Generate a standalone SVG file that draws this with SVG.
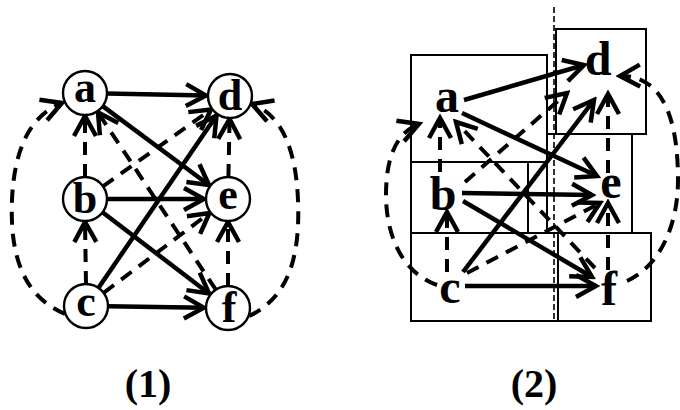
<svg xmlns="http://www.w3.org/2000/svg" width="680" height="410" viewBox="0 0 680 410">
<style>
.bg{fill:#fff}
.node circle{fill:#fff;stroke:#000;stroke-width:2.4}
.box{fill:none;stroke:#000;stroke-width:2}
.lbl{font-family:"Liberation Serif","Times New Roman",serif;font-weight:bold;fill:#000;text-anchor:middle}
.n1{font-size:44px}
.n2{font-size:48px}
.cap{font-size:40px}
.s{fill:none;stroke:#000;stroke-width:4.5;marker-end:url(#ah)}
.d{fill:none;stroke:#000;stroke-width:4;stroke-dasharray:13 9;marker-end:url(#ah)}
.sep{fill:none;stroke:#000;stroke-width:1.6;stroke-dasharray:6 3}
</style>
<defs>
<marker id="ah" viewBox="-24 -14 28 28" markerWidth="28" markerHeight="28" refX="0" refY="0" orient="auto" markerUnits="userSpaceOnUse">
<path d="M-20,-11 L0,0 L-20,11" fill="none" stroke="#000" stroke-width="4.5" stroke-linejoin="miter"/>
</marker>
</defs>
<rect class="bg" x="0" y="0" width="680" height="410"/>

<!-- Diagram (1) connectors -->
<g id="connectors1">
<line class="s" x1="107" y1="93.5" x2="206" y2="95.5"/>
<line class="s" x1="102.7" y1="106.1" x2="209" y2="185"/>
<line class="s" x1="107" y1="199" x2="204" y2="199"/>
<line class="s" x1="102.5" y1="212.3" x2="209" y2="293.5"/>
<line class="s" x1="108" y1="306.3" x2="204" y2="307.7"/>
<line class="s" x1="98.4" y1="287.9" x2="216.5" y2="115.6"/>
<line class="d" x1="85" y1="177" x2="85" y2="116"/>
<line class="d" x1="86" y1="284" x2="85" y2="222"/>
<line class="d" x1="228.4" y1="177" x2="229.6" y2="119"/>
<line class="d" x1="228" y1="286" x2="228" y2="222"/>
<line class="d" x1="102.9" y1="186.3" x2="211" y2="109.5"/>
<line class="d" x1="103.6" y1="292.8" x2="209.5" y2="213"/>
<line class="d" x1="215.8" y1="289.7" x2="98" y2="112.5"/>
<path class="d" d="M65,314 C20,295 10,250 12,200 C14,150 30,115 62,103"/>
<path class="d" d="M249,316 C292,296 300,250 298,200 C296,150 282,115 252,104"/>
</g>

<g id="node1-a" class="node"><circle cx="85" cy="93" r="22"/><text class="lbl n1" x="85" y="102">a</text></g>
<g id="node1-b" class="node"><circle cx="85" cy="199" r="22"/><text class="lbl n1" x="85" y="213">b</text></g>
<g id="node1-c" class="node"><circle cx="86" cy="306" r="22"/><text class="lbl n1" x="86" y="316">c</text></g>
<g id="node1-d" class="node"><circle cx="230" cy="96" r="22"/><text class="lbl n1" x="230" y="110">d</text></g>
<g id="node1-e" class="node"><circle cx="228" cy="199" r="22"/><text class="lbl n1" x="228" y="209">e</text></g>
<g id="node1-f" class="node"><circle cx="228" cy="308" r="22"/><text class="lbl n1" x="229" y="322">f</text></g>

<!-- Diagram (2) boxes -->
<g id="boxes2">
<rect class="box" x="411" y="55" width="136" height="107"/>
<rect class="box" x="556" y="29" width="90" height="105"/>
<rect class="box" x="547" y="134" width="85" height="99"/>
<rect class="box" x="411" y="162" width="117" height="71"/>
<rect class="box" x="411" y="233" width="147" height="88"/>
<rect class="box" x="558" y="233" width="93" height="88"/>
<line class="sep" x1="554" y1="7" x2="554" y2="321"/>
</g>

<g id="connectors2">
<line class="s" x1="464" y1="100" x2="584" y2="65"/>
<line class="s" x1="462" y1="113" x2="597" y2="176"/>
<line class="s" x1="462" y1="193" x2="592" y2="195"/>
<line class="s" x1="463" y1="201" x2="592" y2="277"/>
<line class="s" x1="465" y1="286" x2="596" y2="286"/>
<line class="s" x1="463" y1="272" x2="594" y2="100"/>
<line class="d" x1="440" y1="172" x2="440" y2="118"/>
<line class="d" x1="447" y1="272" x2="447" y2="212"/>
<line class="d" x1="608" y1="173" x2="608" y2="94"/>
<line class="d" x1="608" y1="270" x2="608" y2="203"/>
<line class="d" x1="465" y1="182" x2="567" y2="93"/>
<line class="d" x1="467" y1="273" x2="600" y2="203"/>
<line class="d" x1="595" y1="268" x2="456" y2="122"/>
<path class="d" d="M437,285 C400,272 386,232 386,195 C386,160 395,133 419,124"/>
<path class="d" d="M627,281 C660,266 678,225 678,180 C678,130 668,75 620,76"/>
</g>

<g id="node2-a"><text class="lbl n2" x="447" y="112">a</text></g>
<g id="node2-b"><text class="lbl n2" x="443" y="210">b</text></g>
<g id="node2-c"><text class="lbl n2" x="450" y="303">c</text></g>
<g id="node2-d"><text class="lbl n2" x="598" y="75">d</text></g>
<g id="node2-e"><text class="lbl n2" x="611" y="198">e</text></g>
<g id="node2-f"><text class="lbl n2" x="609" y="305">f</text></g>

<text class="lbl cap" x="148" y="397">(1)</text>
<text class="lbl cap" x="534" y="397">(2)</text>
</svg>
